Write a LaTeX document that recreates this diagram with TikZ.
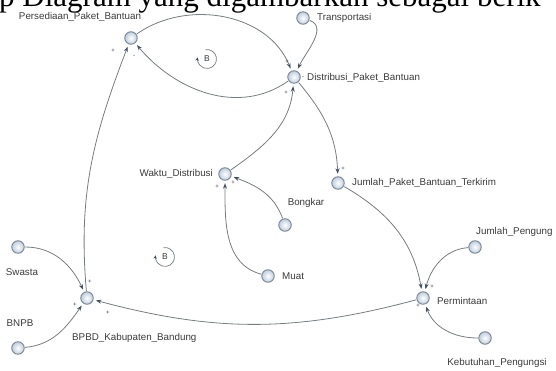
\documentclass[tikz,border=0pt]{standalone}
\usepackage{fontspec}
\setmainfont{Liberation Serif}
\setsansfont{Liberation Sans}
\usetikzlibrary{arrows.meta}
\definecolor{varfill}{RGB}{190,205,222}
\definecolor{varline}{RGB}{120,132,146}
\definecolor{linkline}{RGB}{118,124,131}
\definecolor{tipcol}{RGB}{66,82,98}
\definecolor{lbltext}{RGB}{58,58,58}

\begin{document}
\begin{tikzpicture}[x=1pt, y=1pt,
    var/.style={circle, draw=varline, line width=0.9pt, inner color=white, outer color=varfill, minimum size=12.5pt, inner sep=0pt},
    lbl/.style={font=\sffamily\fontsize{9.8}{10}\selectfont, text=lbltext, inner sep=0pt},
    sign/.style={font=\sffamily\fontsize{6}{6}\selectfont, text=lbltext, inner sep=0pt},
    link/.style={draw=linkline, line width=0.8pt, -{Stealth[length=5.5pt, width=4pt, color=tipcol]}, shorten >=2.5pt, shorten <=0.5pt},
    loopsym/.style={draw=linkline, line width=0.7pt, -{Stealth[length=3.5pt, width=3.5pt, color=tipcol]}}]
    \useasboundingbox (0,0) rectangle (556,-371);
    \clip (0,0) rectangle (556,-371);

    % heading line of the page, cut at the top
    \node[anchor=base west, inner sep=0pt, font=\rmfamily\fontsize{31}{31}\selectfont] (heading) at (-1,-6.5) {p Diagram yang digambarkan sebagai berik};

    % Variables
    \node[var] (pers) at (131,-38) {};
    \node[var] (trans) at (303,-18) {};
    \node[var] (dist) at (294,-77) {};
    \node[var] (waktu) at (225,-174) {};
    \node[var] (bongkar) at (285,-225) {};
    \node[var] (muat) at (268,-276) {};
    \node[var] (terkirim) at (338,-183) {};
    \node[var] (jpeng) at (475,-247) {};
    \node[var] (perm) at (423,-298) {};
    \node[var] (kebut) at (485,-338) {};
    \node[var] (swasta) at (18,-247) {};
    \node[var] (bnpb) at (18,-348) {};
    \node[var] (bpbd) at (87,-298) {};

    % Variable names
    \node[lbl] (persl) at (80,-17) {Persediaan\_Paket\_Bantuan};
    \node[lbl, anchor=west] (transl) at (317,-17.5) {Transportasi};
    \node[lbl, anchor=west] (distl) at (307,-78) {Distribusi\_Paket\_Bantuan};
    \node[lbl, anchor=east] (waktul) at (213,-174) {Waktu\_Distribusi};
    \node[lbl] (bongkarl) at (306,-203) {Bongkar};
    \node[lbl, anchor=west] (muatl) at (282,-276) {Muat};
    \node[lbl, anchor=west] (terkiriml) at (352,-183) {Jumlah\_Paket\_Bantuan\_Terkirim};
    \node[lbl, anchor=west] (jpengl) at (476,-232) {Jumlah\_Pengung};
    \node[lbl, anchor=west] (perml) at (437,-301) {Permintaan};
    \node[lbl] (kebutl) at (497,-363) {Kebutuhan\_Pengungsi};
    \node[lbl] (swastal) at (22,-272) {Swasta};
    \node[lbl] (bnpbl) at (20,-323) {BNPB};
    \node[lbl, anchor=west] (bpbdl) at (72,-338) {BPBD\_Kabupaten\_Bandung};

    % Links
    \draw[link] (pers) to[out=35, in=112] (dist);
    \draw[link] (dist) to[out=215, in=-50] (pers);
    \draw[link] (trans) to[out=-20, in=65] (dist);
    \draw[link] (waktu) to[out=35, in=-95] (dist);
    \draw[link] (dist) to[out=-50, in=92] (terkirim);
    \draw[link] (bongkar) to[out=110, in=-20] (waktu);
    \draw[link] (muat) to[out=165, in=-90] (waktu);
    \draw[link] (terkirim) to[out=-30, in=100] (perm);
    \draw[link] (jpeng) to[out=185, in=75] (perm);
    \draw[link] (kebut) to[out=180, in=-70] (perm);
    \draw[link] (perm) to[out=195, in=-15] (bpbd);
    \draw[link] (swasta) to[out=0, in=115] (bpbd);
    \draw[link] (bnpb) to[out=5, in=235] (bpbd);
    \draw[link] (bpbd) to[out=95, in=249] (pers);

    % Polarities
    \node[sign] (sg1) at (113,-51) {+};
    \node[sign] (sg2) at (134,-57) {-};
    \node[sign] (sg3) at (287,-62) {+};
    \node[sign] (sg4) at (303,-78) {-};
    \node[sign] (sg5) at (286,-93) {+};
    \node[sign] (sg6) at (343,-169) {+};
    \node[sign] (sg7) at (233,-183) {+};
    \node[sign] (sg8) at (217,-187) {+};
    \node[sign] (sg9) at (432,-287) {+};
    \node[sign] (sg10) at (418,-306) {+};
    \node[sign] (sg11) at (90,-282) {+};
    \node[sign] (sg12) at (75,-305) {+};
    \node[sign] (sg13) at (108,-313) {+};

    % Loops
    \node[sign, font=\sffamily\fontsize{8.5}{9}\selectfont] (loopa) at (207,-59) {B};
    \draw[loopsym] (loopa.center) ++(100:9.5) arc[start angle=100, end angle=-190, radius=9.5];
    \node[sign, font=\sffamily\fontsize{8.5}{9}\selectfont] (loopb) at (165,-257) {B};
    \draw[loopsym] (loopb.center) ++(100:9.5) arc[start angle=100, end angle=-190, radius=9.5];
\end{tikzpicture}
\end{document}
